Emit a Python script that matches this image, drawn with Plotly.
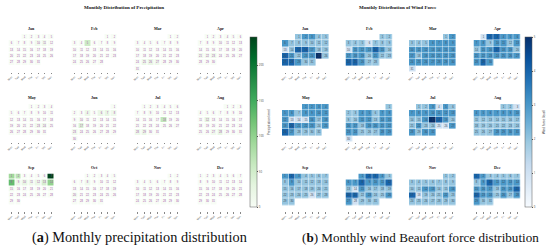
import calendar
import plotly.graph_objects as go

YEAR = 2014
W, H = 550, 250

month_names = ["Jan", "Feb", "Mar", "Apr", "May", "Jun",
               "Jul", "Aug", "Sep", "Oct", "Nov", "Dec"]
day_names = ["Mon", "Tue", "Wed", "Thu", "Fri", "Sat", "Sun"]

# daily precipitation (mm)
precip_jan = [0]*9 + [12, 15] + [0]*20
precip_feb = [0]*4 + [55] + [0]*23
precip_mar = [0]*24 + [18, 22, 15] + [0]*4
precip_apr = [0]*9 + [5] + [0]*10 + [12, 10, 15] + [0]*7
precip_may = [0]*22 + [12, 15] + [0]*7
precip_jun = [0]*3 + [18, 0, 20, 25, 15, 0, 8] + [0]*6 + [40] + [0]*5 + [12] + [0]*7
precip_jul = [0]*8 + [5] + [0]*8 + [65] + [0]*9 + [15, 20] + [0]*2
precip_aug = [0]*11 + [30] + [0]*14 + [10, 25] + [0]*3
precip_sep = [90, 70, 0, 0, 0, 0, 240, 130, 20, 25, 15, 20, 45, 100, 8] + [0]*15
precip_oct = [0]*7 + [12] + [0]*10 + [5, 10] + [0]*11
precip_nov = [0]*30
precip_dec = [0]*31

# daily mean wind force (Beaufort level)
wind_jan = [2, 3, 3, 2, 2, 3, 2, 2, 2, 2, 2, 2, 1, 2, 4, 4, 3, 2, 2, 4, 3, 2, 3, 3, 5, 2, 4, 4, 3, 2, 2]
wind_feb = [2, 2, 2, 2, 2, 1, 2, 2, 2, 1, 3, 3, 3, 4, 3, 2, 3, 3, 3, 2, 3, 2, 2, 4, 4, 3, 2, 2]
wind_mar = [2, 3, 2, 2, 2, 3, 3, 3, 3, 3, 3, 3, 3, 3, 3, 3, 3, 2, 3, 3, 3, 3, 3, 3, 3, 3, 3, 3, 3, 3, 1]
wind_apr = [1, 4, 4, 3, 3, 3, 3, 3, 2, 3, 3, 2, 3, 2, 3, 3, 4, 3, 3, 2, 3, 3, 3, 3, 3, 3, 3, 3, 4, 3]
wind_may = [3, 3, 3, 3, 3, 3, 2, 3, 3, 3, 3, 3, 1, 1, 1, 3, 2, 3, 3, 4, 3, 3, 3, 2, 3, 4, 3, 2, 2, 2, 2]
wind_jun = [2, 2, 2, 3, 3, 2, 3, 3, 2, 2, 3, 3, 2, 3, 3, 3, 3, 2, 3, 3, 3, 3, 3, 3, 2, 2, 2, 3, 3, 1]
wind_jul = [2, 2, 3, 1, 3, 2, 3, 3, 3, 3, 3, 3, 3, 2, 2, 3, 5, 4, 3, 2, 2, 3, 2, 2, 1, 1, 3, 3, 2, 3, 3]
wind_aug = [2, 2, 1, 3, 3, 3, 3, 3, 3, 3, 2, 2, 2, 2, 2, 2, 2, 2, 2, 2, 2, 2, 2, 2, 2, 2, 2, 3, 3, 3, 3]
wind_sep = [3, 4, 3, 2, 2, 2, 2, 2, 3, 2, 2, 2, 2, 2, 2, 2, 2, 2, 2, 2, 2, 2, 2, 2, 2, 1, 2, 2, 2, 2]
wind_oct = [3, 4, 4, 3, 2, 3, 3, 4, 3, 3, 3, 4, 2, 1, 3, 2, 2, 2, 2, 4, 4, 2, 3, 2, 2, 3, 3, 1, 2, 2, 2]
wind_nov = [2, 2, 2, 2, 2, 2, 2, 2, 2, 2, 2, 3, 3, 2, 2, 3, 4, 1, 2, 2, 2, 3, 2, 2, 2, 2, 2, 2, 2, 2]
wind_dec = [4, 3, 2, 2, 2, 2, 2, 2, 3, 4, 3, 3, 3, 3, 3, 3, 3, 2, 3, 3, 4, 4, 3, 3, 2, 3, 2, 3, 3, 2, 2]

precip = [precip_jan, precip_feb, precip_mar, precip_apr, precip_may, precip_jun,
          precip_jul, precip_aug, precip_sep, precip_oct, precip_nov, precip_dec]
wind = [wind_jan, wind_feb, wind_mar, wind_apr, wind_may, wind_jun,
        wind_jul, wind_aug, wind_sep, wind_oct, wind_nov, wind_dec]

SERIF = "Liberation Serif, Times New Roman, serif"


def month_grid(month, values):
    """6 weeks x 7 days grid of values and day numbers"""
    z = [[None]*7 for _ in range(6)]
    txt = [[""]*7 for _ in range(6)]
    first_dow, ndays = calendar.monthrange(YEAR, month)
    for d in range(ndays):
        pos = first_dow + d
        z[pos // 7][pos % 7] = values[d]
        txt[pos // 7][pos % 7] = str(d + 1)
    return z, txt


def note(text, x, y, size, **kw):
    return dict(text=text, x=x / W, y=1 - y / H, xref="paper", yref="paper",
                xanchor="center", yanchor=kw.get("yanchor", "middle"), showarrow=False,
                font=dict(size=size, family=SERIF, color="#111"))


fig = go.Figure()
layout = {}
annotations = []

# pixel layout of the two panels
panels = [
    dict(data=precip, x0=[8.5, 71.5, 134.5, 197.5], w=46, gap=1.0,
         cax="coloraxis", text_color="#a34da8"),
    dict(data=wind, x0=[282, 345.5, 409, 473.5], w=47, gap=0.4,
         cax="coloraxis2", text_color="#3a4450"),
]
row_tops = [34, 104, 173.5]
cell_h = 6.3

ax = 0
for p in panels:
    for m in range(12):
        ax += 1
        r, c = divmod(m, 4)
        z, txt = month_grid(m + 1, p["data"][m])
        fig.add_trace(go.Heatmap(
            z=z, text=txt, x=list(range(7)), y=list(range(6)),
            texttemplate="%{text}",
            textfont=dict(size=2.6, color=p["text_color"], family="Arial"),
            coloraxis=p["cax"], xgap=p["gap"], ygap=p["gap"],
            hoverinfo="skip",
            xaxis=f"x{ax}", yaxis=f"y{ax}",
        ))
        xl = p["x0"][c]
        top = row_tops[r]
        bot = top + 6 * cell_h
        sfx = "" if ax == 1 else str(ax)
        layout[f"xaxis{sfx}"] = dict(
            domain=[xl / W, (xl + p["w"]) / W], anchor=f"y{ax}",
            range=[-0.5, 6.5], tickvals=list(range(7)), ticktext=day_names,
            tickangle=-45, tickfont=dict(size=2.6, color="#444"),
            ticks="outside", ticklen=1.5, tickwidth=0.5, tickcolor="#888",
            showgrid=False, zeroline=False, showline=False, fixedrange=True,
        )
        layout[f"yaxis{sfx}"] = dict(
            domain=[1 - bot / H, 1 - top / H], anchor=f"x{ax}",
            range=[5.5, -0.5], showticklabels=False, showgrid=False,
            zeroline=False, showline=False, fixedrange=True,
        )
        annotations.append(note(f"<b>{month_names[m]}</b>", xl + p["w"] / 2,
                                top - 1.5, 4, yanchor="bottom"))

# panel titles
annotations.append(note("<b>Monthly Distribution of Precipitation</b>", 124, 7, 5))
annotations.append(note("<b>Monthly Distribution of Wind Force</b>", 398, 7, 5))

# captions
annotations.append(note("(<b>a</b>) Monthly precipitation distribution", 140, 237, 14.3))
annotations.append(note("(<b>b</b>) Monthly wind Beaufort force distribution", 420.5, 237, 13.1))

cbar_common = dict(
    xanchor="left", xpad=0, ypad=0, y=1 - 37 / H, yanchor="top",
    len=170, lenmode="pixels",
    thickness=6.5, outlinewidth=0.5, outlinecolor="#555",
    tickfont=dict(size=2.8, color="#444"), ticks="outside", ticklen=1.5,
    tickwidth=0.5, tickcolor="#555",
)

fig.update_layout(
    **layout,
    annotations=annotations,
    coloraxis=dict(
        colorscale="Greens", cmin=0, cmax=240,
        colorbar=dict(x=249.5 / W, tickvals=[0, 50, 100, 150, 200],
                      title=dict(text="Precipitation (mm)", side="right",
                                 font=dict(size=3, color="#333")),
                      **cbar_common),
    ),
    coloraxis2=dict(
        colorscale="Blues", cmin=0, cmax=5,
        colorbar=dict(x=525 / W, tickvals=[0, 1, 2, 3, 4, 5],
                      title=dict(text="Wind force (level)", side="right",
                                 font=dict(size=3, color="#333")),
                      **cbar_common),
    ),
    width=W, height=H,
    margin=dict(l=0, r=0, t=0, b=0, autoexpand=False),
    paper_bgcolor="white", plot_bgcolor="white",
    showlegend=False,
)

# the page's default body margin would shift the figure by 8px
fig.write_html("out.html", config={"displayModeBar": False},
               post_script="document.body.style.margin = '0px';")
